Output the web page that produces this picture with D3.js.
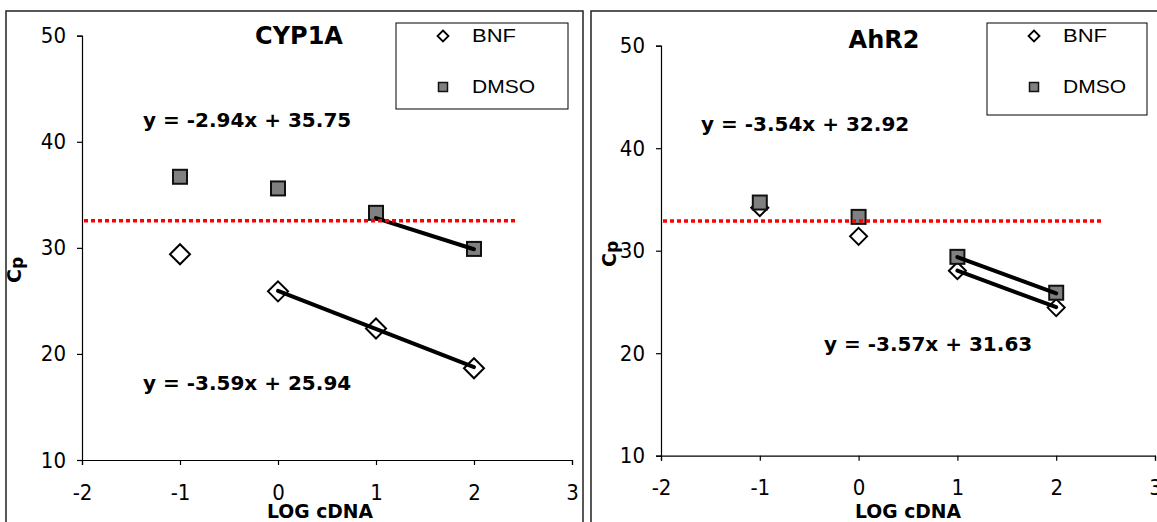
<!DOCTYPE html>
<html>
<head>
<meta charset="utf-8">
<script src="https://cdn.jsdelivr.net/npm/d3@7"></script>
<style>
  html, body { margin: 0; padding: 0; background: #fff; }
  svg { display: block; }
  .tick text { font-family: 'DejaVu Sans Condensed', 'DejaVu Sans', sans-serif; font-size: 22px; fill: #000; }
  .bold { font-family: 'DejaVu Sans', sans-serif; font-weight: bold; fill: #000; }
  .legend-text { font-family: 'Liberation Sans', Arial, sans-serif; font-size: 18px; fill: #000; }
</style>
</head>
<body>
<svg id="chart" width="1157" height="522"></svg>
<script>
// Standard-curve data: Cp versus log cDNA dilution
const logCdna = [-1, 0, 1, 2];
const xTicks = [-2, -1, 0, 1, 2, 3];
const yTicks = [10, 20, 30, 40, 50];
const seriesNames = ["BNF", "DMSO"];

const cyp1aBnf  = [29.4, 25.9, 22.4, 18.65];
const cyp1aDmso = [36.7, 35.6, 33.3, 29.9];
const ahr2Bnf   = [34.2, 31.4, 28.05, 24.45];
const ahr2Dmso  = [34.7, 33.3, 29.4, 25.9];

// Linear fits: [slope, intercept, first x, last x]
const cyp1aBnfFit  = [-3.59, 25.94, 0, 2];
const cyp1aDmsoFit = [-2.94, 35.75, 1, 2];
const ahr2BnfFit   = [-3.57, 31.63, 1, 2];
const ahr2DmsoFit  = [-3.54, 32.92, 1, 2];

// Detection cut-off line: [Cp, x start, x end]
const cyp1aCutoff = [32.55, -2, 2.42];
const ahr2Cutoff  = [32.9, -2, 2.48];

const svg = d3.select("#chart");

const panels = [
  {
    title: "CYP1A", bnf: cyp1aBnf, dmso: cyp1aDmso,
    fits: [
      { fit: cyp1aDmsoFit, label: [143, 127] },
      { fit: cyp1aBnfFit,  label: [143, 390] }
    ],
    cutoff: cyp1aCutoff,
    frame: [6, 11, 577, 530],
    x: [82, 572], y: [460, 35.7],
    titlePos: [299, 44],
    legend: [396, 23, 172, 86], rows: [13, 64],
    diamond: 10,
    cpPos: [14, 270],
    xLabelX: 320
  },
  {
    title: "AhR2", bnf: ahr2Bnf, dmso: ahr2Dmso,
    fits: [
      { fit: ahr2DmsoFit, label: [701, 131] },
      { fit: ahr2BnfFit,  label: [824, 351] }
    ],
    cutoff: ahr2Cutoff,
    frame: [591, 11, 580, 530],
    x: [661, 1155], y: [455.7, 45.7],
    titlePos: [884, 48],
    legend: [987, 23, 160, 92], rows: [13, 64],
    diamond: 8.5,
    cpPos: [609, 254],
    xLabelX: 908
  }
];

function diamondPath(r) {
  return `M0,${-r}L${r},0L0,${r}L${-r},0Z`;
}

panels.forEach(p => {
  const g = svg.append("g");

  // chart frame
  g.append("rect")
    .attr("x", p.frame[0]).attr("y", p.frame[1])
    .attr("width", p.frame[2]).attr("height", p.frame[3])
    .attr("fill", "none").attr("stroke", "#222").attr("stroke-width", 1.5);

  const x = d3.scaleLinear().domain([-2, 3]).range(p.x);
  const y = d3.scaleLinear().domain([10, 50]).range(p.y);

  const yAxis = g.append("g")
    .attr("transform", `translate(${p.x[0]},0)`)
    .call(d3.axisLeft(y).tickValues(yTicks).tickSize(5).tickPadding(11).tickFormat(d => String(d)));
  const xAxis = g.append("g")
    .attr("transform", `translate(0,${p.y[0]})`)
    .call(d3.axisBottom(x).tickValues(xTicks).tickSize(5).tickPadding(19).tickFormat(d => String(d)));
  [yAxis, xAxis].forEach(a => {
    a.select(".domain").attr("stroke", "#000").attr("stroke-width", 1.2);
    a.selectAll(".tick line").attr("stroke", "#000").attr("stroke-width", 1.2);
  });

  // BNF markers (open diamonds)
  g.append("g").selectAll("path")
    .data(p.bnf.map((v, i) => [logCdna[i], v]))
    .join("path")
    .attr("d", diamondPath(p.diamond))
    .attr("transform", d => `translate(${x(d[0])},${y(d[1])})`)
    .attr("fill", "#fff").attr("stroke", "#000").attr("stroke-width", 2);

  // DMSO markers (grey squares)
  g.append("g").selectAll("rect")
    .data(p.dmso.map((v, i) => [logCdna[i], v]))
    .join("rect")
    .attr("x", d => x(d[0]) - 7).attr("y", d => y(d[1]) - 7)
    .attr("width", 14).attr("height", 14)
    .attr("fill", "#808080").attr("stroke", "#111").attr("stroke-width", 2);

  // regression lines and their equations
  p.fits.forEach(f => {
    const [m, b, x0, x1] = f.fit;
    g.append("line")
      .attr("x1", x(x0)).attr("y1", y(m * x0 + b))
      .attr("x2", x(x1)).attr("y2", y(m * x1 + b))
      .attr("stroke", "#000").attr("stroke-width", 4).attr("stroke-linecap", "round");
    g.append("text").attr("class", "bold")
      .attr("x", f.label[0]).attr("y", f.label[1])
      .attr("font-size", 20)
      .text(`y = ${m.toFixed(2)}x + ${b.toFixed(2)}`);
  });

  // cut-off line
  const [cp, c0, c1] = p.cutoff;
  g.append("line")
    .attr("x1", x(c0) + 2).attr("x2", x(c1))
    .attr("y1", y(cp)).attr("y2", y(cp))
    .attr("stroke", "#ff0000").attr("stroke-width", 3.5)
    .attr("stroke-dasharray", "4 3");

  // title
  g.append("text").attr("class", "bold")
    .attr("x", p.titlePos[0]).attr("y", p.titlePos[1])
    .attr("text-anchor", "middle").attr("font-size", 24)
    .text(p.title);

  // axis titles
  g.append("text").attr("class", "bold")
    .attr("x", p.xLabelX).attr("y", 518)
    .attr("text-anchor", "middle").attr("font-size", 19)
    .attr("textLength", 106).attr("lengthAdjust", "spacingAndGlyphs")
    .text("LOG cDNA");
  const cpText = g.append("text").attr("class", "bold")
    .attr("transform", `translate(${p.cpPos[0] + 7},${p.cpPos[1]}) rotate(-90)`)
    .attr("text-anchor", "middle").attr("font-size", 19);
  cpText.append("tspan").text("C");
  cpText.append("tspan").attr("font-size", 17).attr("dy", 2).text("p");

  // legend
  const [lx, ly, lw, lh] = p.legend;
  const lg = g.append("g");
  lg.append("rect").attr("x", lx).attr("y", ly).attr("width", lw).attr("height", lh)
    .attr("fill", "#fff").attr("stroke", "#000").attr("stroke-width", 1);
  const rowY = p.rows.map(r => ly + r);
  const mx = lx + 47;
  lg.append("path").attr("d", diamondPath(5.5))
    .attr("transform", `translate(${mx},${rowY[0]})`)
    .attr("fill", "#fff").attr("stroke", "#000").attr("stroke-width", 1.8);
  lg.append("rect").attr("x", mx - 4.5).attr("y", rowY[1] - 4.5)
    .attr("width", 9).attr("height", 9)
    .attr("fill", "#808080").attr("stroke", "#111").attr("stroke-width", 1.5);
  const legendWidths = [44, 63];
  seriesNames.forEach((name, i) => {
    lg.append("text").attr("class", "legend-text")
      .attr("x", lx + 76).attr("y", rowY[i]).attr("dy", "0.36em")
      .attr("textLength", legendWidths[i]).attr("lengthAdjust", "spacingAndGlyphs")
      .text(name);
  });
});
</script>
</body>
</html>
